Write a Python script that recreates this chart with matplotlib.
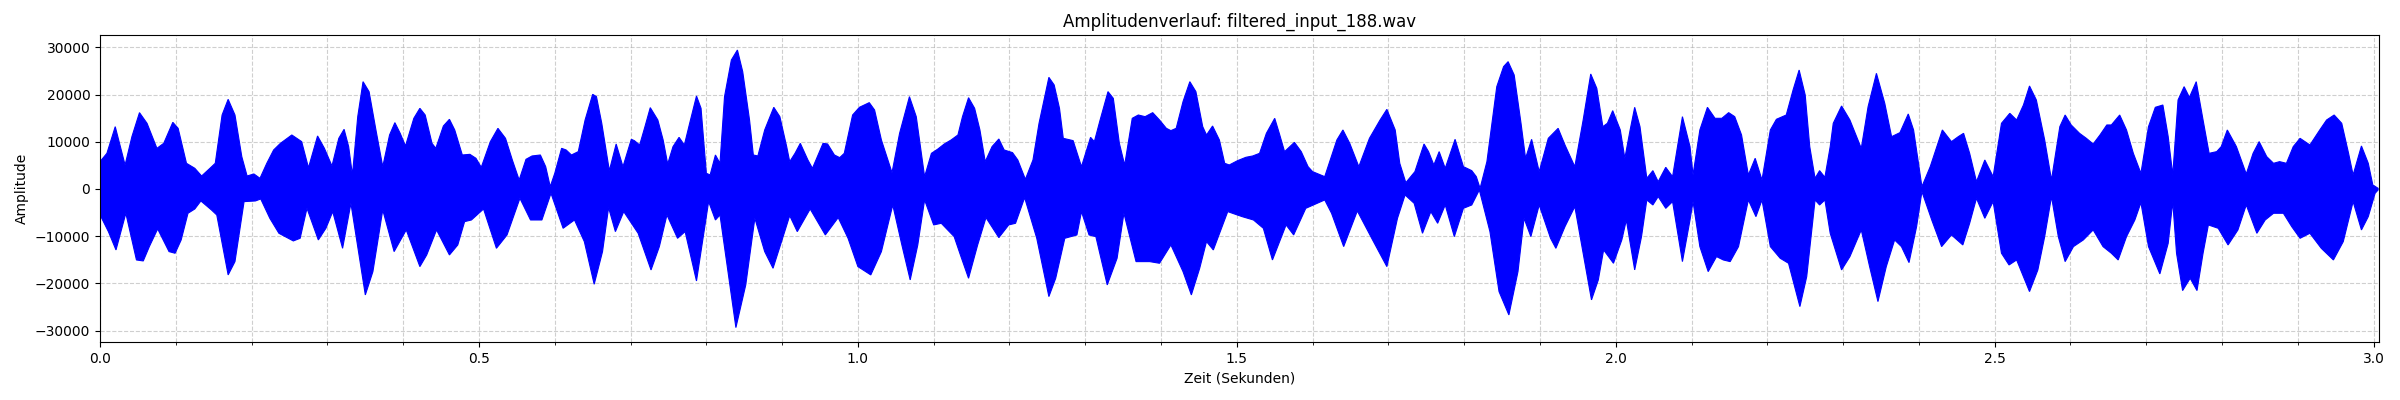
import matplotlib
matplotlib.use("Agg")
import matplotlib.pyplot as plt
import numpy as np
from matplotlib.ticker import MultipleLocator

# upper envelope of the waveform (seconds, amplitude)
t_upper = [
    0.000, 0.009, 0.020, 0.033, 0.042, 0.052, 0.062, 0.075, 0.084, 0.096,
    0.103, 0.114, 0.125, 0.134, 0.145, 0.152, 0.161, 0.169, 0.178, 0.187,
    0.194, 0.203, 0.211, 0.220, 0.229, 0.238, 0.253, 0.266, 0.275, 0.287,
    0.296, 0.306, 0.315, 0.322, 0.328, 0.333, 0.340, 0.347, 0.355, 0.364,
    0.373, 0.382, 0.389, 0.396, 0.403, 0.414, 0.422, 0.429, 0.438, 0.443,
    0.453, 0.461, 0.468, 0.478, 0.488, 0.496, 0.503, 0.515, 0.525, 0.535,
    0.544, 0.553, 0.562, 0.570, 0.581, 0.588, 0.594, 0.600, 0.609, 0.615,
    0.622, 0.631, 0.640, 0.650, 0.655, 0.662, 0.672, 0.681, 0.690, 0.701,
    0.705, 0.712, 0.719, 0.726, 0.736, 0.743, 0.749, 0.756, 0.764, 0.771,
    0.778, 0.787, 0.793, 0.800, 0.805, 0.812, 0.818, 0.824, 0.833, 0.841,
    0.848, 0.857, 0.862, 0.868, 0.877, 0.889, 0.897, 0.906, 0.910, 0.917,
    0.924, 0.934, 0.940, 0.954, 0.960, 0.969, 0.976, 0.982, 0.993, 1.002,
    1.015, 1.022, 1.031, 1.045, 1.055, 1.068, 1.077, 1.088, 1.097, 1.105,
    1.114, 1.123, 1.132, 1.138, 1.146, 1.154, 1.161, 1.168, 1.177, 1.186,
    1.193, 1.204, 1.211, 1.221, 1.231, 1.239, 1.252, 1.259, 1.266, 1.271,
    1.284, 1.295, 1.307, 1.312, 1.319, 1.330, 1.337, 1.345, 1.352, 1.362,
    1.370, 1.379, 1.389, 1.398, 1.407, 1.413, 1.420, 1.429, 1.438, 1.446,
    1.455, 1.460, 1.468, 1.477, 1.484, 1.490, 1.501, 1.512, 1.521, 1.530,
    1.539, 1.550, 1.556, 1.563, 1.576, 1.585, 1.594, 1.600, 1.616, 1.632,
    1.640, 1.649, 1.661, 1.675, 1.689, 1.698, 1.709, 1.715, 1.723, 1.735,
    1.747, 1.753, 1.760, 1.767, 1.775, 1.788, 1.799, 1.810, 1.816, 1.821,
    1.830, 1.843, 1.852, 1.858, 1.866, 1.875, 1.881, 1.889, 1.899, 1.911,
    1.924, 1.933, 1.946, 1.957, 1.967, 1.975, 1.983, 1.989, 1.996, 2.006,
    2.012, 2.019, 2.025, 2.032, 2.041, 2.049, 2.056, 2.066, 2.075, 2.088,
    2.098, 2.102, 2.111, 2.121, 2.131, 2.140, 2.149, 2.157, 2.166, 2.175,
    2.184, 2.193, 2.204, 2.212, 2.225, 2.234, 2.242, 2.250, 2.256, 2.263,
    2.269, 2.276, 2.283, 2.287, 2.298, 2.309, 2.324, 2.333, 2.344, 2.355,
    2.364, 2.375, 2.386, 2.393, 2.404, 2.415, 2.431, 2.443, 2.452, 2.459,
    2.467, 2.476, 2.487, 2.498, 2.509, 2.520, 2.529, 2.538, 2.546, 2.555,
    2.566, 2.575, 2.586, 2.593, 2.601, 2.612, 2.621, 2.630, 2.639, 2.648,
    2.654, 2.665, 2.674, 2.683, 2.693, 2.703, 2.712, 2.722, 2.729, 2.735,
    2.742, 2.750, 2.757, 2.766, 2.775, 2.783, 2.793, 2.799, 2.807, 2.819,
    2.832, 2.841, 2.849, 2.859, 2.868, 2.876, 2.885, 2.894, 2.903, 2.916,
    2.929, 2.938, 2.948, 2.958, 2.967, 2.973, 2.984, 2.993, 2.999, 3.006,
]
a_upper = [
    5800, 7550, 13200, 5080, 11080, 16170, 13900, 8610, 9670, 14120,
    12850, 5440, 4380, 2750, 4380, 5440, 15670, 18990, 15670, 6850,
    2750, 3180, 2260, 5440, 8260, 9670, 11440, 10030, 4500, 11230,
    8610, 4870, 10730, 12640, 8970, 2970, 15320, 22730, 20600, 12500,
    4730, 11440, 14050, 11790, 9110, 14970, 17090, 15670, 9670, 8610,
    13340, 14760, 12500, 7200, 7340, 6500, 4590, 10030, 12850, 10730,
    6140, 1910, 6280, 6990, 7200, 4730, 500, 3320, 8610, 8260,
    7200, 7910, 14610, 20050, 19560, 13910, 3880, 9530, 4730, 10520,
    10240, 9320, 13200, 17230, 14610, 10380, 5300, 8970, 10940, 9320,
    13910, 19700, 17090, 3320, 2970, 7200, 5440, 19560, 27320, 29440,
    24850, 14610, 7200, 6990, 12500, 17300, 15320, 8970, 5790, 7550,
    9670, 6140, 4380, 9670, 9530, 7200, 6640, 7550, 15670, 17300,
    18290, 16730, 10380, 3460, 11790, 19560, 15320, 2610, 7550, 8400,
    9530, 10380, 11440, 15320, 19340, 17090, 12500, 5790, 8970, 10590,
    8260, 7700, 6140, 2050, 6140, 13910, 23650, 22030, 17090, 10730,
    10240, 4730, 10940, 10030, 14260, 20620, 19200, 9670, 5080, 14970,
    15670, 15320, 16170, 14610, 12850, 12360, 12850, 18500, 22730, 20620,
    13200, 11440, 13340, 10380, 5440, 5080, 6000, 6710, 6990, 7550,
    11790, 14970, 11790, 7910, 9880, 7910, 4730, 3670, 2610, 10380,
    12500, 9670, 4730, 10730, 14610, 16870, 12500, 5440, 1340, 3670,
    9530, 7910, 5080, 7910, 4380, 10520, 4730, 3880, 2610, 140,
    5790, 21670, 25920, 26970, 24140, 13910, 6500, 10520, 3670, 10730,
    12850, 9320, 4730, 14610, 24360, 21320, 13200, 13910, 16590, 12500,
    6500, 12500, 17300, 13200, 2260, 3880, 1550, 4590, 2610, 15320,
    8970, 2970, 12500, 17300, 14970, 14970, 16170, 15320, 11440, 2970,
    6500, 1910, 12500, 14760, 15670, 20970, 25200, 19910, 8970, 2260,
    3880, 2470, 8970, 13910, 17580, 14610, 8610, 17440, 24500, 18140,
    11080, 11930, 15890, 12500, 490, 4730, 12500, 10030, 11080, 11790,
    7550, 1550, 6140, 2610, 13910, 16030, 14610, 17790, 21820, 18850,
    10380, 1910, 13200, 15670, 13560, 11790, 10730, 9530, 11440, 13560,
    13560, 15670, 12500, 7550, 3320, 13200, 17300, 17790, 11080, 2970,
    18850, 21670, 19410, 22730, 14610, 7550, 7910, 8970, 12500, 8970,
    3180, 7550, 10030, 6850, 5440, 5790, 5440, 8970, 10730, 9320,
    12500, 14610, 15670, 13910, 7550, 2970, 9110, 5440, 850, 140,
]

# lower envelope of the waveform
t_lower = [
    0.000, 0.011, 0.021, 0.034, 0.048, 0.057, 0.065, 0.076, 0.091, 0.099,
    0.107, 0.116, 0.125, 0.133, 0.147, 0.154, 0.169, 0.178, 0.190, 0.205,
    0.212, 0.224, 0.236, 0.255, 0.264, 0.273, 0.288, 0.298, 0.307, 0.320,
    0.331, 0.350, 0.360, 0.373, 0.388, 0.404, 0.422, 0.431, 0.444, 0.461,
    0.472, 0.481, 0.490, 0.506, 0.523, 0.537, 0.554, 0.568, 0.583, 0.595,
    0.611, 0.626, 0.639, 0.652, 0.663, 0.671, 0.680, 0.691, 0.710, 0.727,
    0.738, 0.748, 0.762, 0.772, 0.787, 0.803, 0.812, 0.818, 0.839, 0.852,
    0.864, 0.877, 0.888, 0.902, 0.910, 0.920, 0.937, 0.957, 0.974, 0.987,
    1.000, 1.017, 1.031, 1.046, 1.058, 1.069, 1.079, 1.088, 1.100, 1.110,
    1.127, 1.136, 1.146, 1.158, 1.169, 1.186, 1.199, 1.208, 1.220, 1.236,
    1.252, 1.261, 1.273, 1.289, 1.295, 1.305, 1.314, 1.329, 1.342, 1.351,
    1.367, 1.385, 1.398, 1.413, 1.429, 1.440, 1.451, 1.460, 1.469, 1.488,
    1.507, 1.522, 1.535, 1.547, 1.565, 1.575, 1.591, 1.616, 1.625, 1.641,
    1.659, 1.678, 1.698, 1.712, 1.722, 1.734, 1.745, 1.756, 1.765, 1.775,
    1.787, 1.799, 1.810, 1.820, 1.834, 1.846, 1.859, 1.871, 1.879, 1.888,
    1.899, 1.914, 1.921, 1.933, 1.946, 1.957, 1.968, 1.977, 1.984, 1.997,
    2.008, 2.014, 2.025, 2.034, 2.041, 2.049, 2.056, 2.066, 2.075, 2.088,
    2.098, 2.102, 2.111, 2.122, 2.133, 2.142, 2.151, 2.162, 2.175, 2.185,
    2.193, 2.204, 2.217, 2.228, 2.243, 2.252, 2.263, 2.269, 2.276, 2.283,
    2.298, 2.309, 2.324, 2.335, 2.346, 2.357, 2.368, 2.377, 2.387, 2.397,
    2.404, 2.417, 2.430, 2.443, 2.458, 2.467, 2.476, 2.487, 2.498, 2.509,
    2.519, 2.529, 2.546, 2.557, 2.566, 2.575, 2.584, 2.593, 2.604, 2.617,
    2.630, 2.643, 2.654, 2.663, 2.674, 2.685, 2.693, 2.703, 2.718, 2.729,
    2.735, 2.740, 2.748, 2.758, 2.767, 2.775, 2.782, 2.795, 2.808, 2.821,
    2.832, 2.846, 2.857, 2.868, 2.881, 2.892, 2.903, 2.916, 2.931, 2.947,
    2.960, 2.973, 2.984, 2.993, 3.002, 3.006,
]
a_lower = [
    -5500, -9040, -12920, -5150, -15040, -15250, -12210, -8470, -13270, -13620,
    -10800, -5150, -4240, -2540, -4450, -5510, -18210, -15390, -2680, -2540,
    -2120, -6210, -9390, -11010, -10450, -4100, -10800, -8330, -4800, -12570,
    -3040, -22450, -17510, -4450, -13270, -8680, -16450, -13980, -8680, -13980,
    -11860, -6920, -6570, -4240, -12570, -9740, -1980, -6570, -6570, -920,
    -8330, -6570, -11150, -20190, -13270, -3950, -9040, -4800, -9390, -17160,
    -12210, -5510, -10450, -9040, -19490, -2680, -6570, -5510, -29370, -20330,
    -6210, -13270, -16800, -9740, -5650, -9040, -4240, -9740, -6070, -10450,
    -16450, -18210, -13270, -3390, -11860, -19270, -11860, -2330, -7620, -7270,
    -10100, -14330, -18920, -11860, -6070, -10310, -7620, -7270, -1840, -10450,
    -22800, -18920, -10450, -9740, -4800, -9740, -10100, -20330, -14680, -5150,
    -15390, -15390, -15740, -11860, -17510, -22450, -16800, -11150, -12920, -4800,
    -5860, -6570, -8330, -15040, -7620, -9740, -4100, -2330, -5150, -12210,
    -4660, -10450, -16450, -6210, -1270, -3040, -9390, -4800, -7270, -3390,
    -10100, -4100, -3390, -210, -9040, -21740, -26690, -17510, -6210, -10100,
    -3390, -10450, -12570, -7980, -3740, -13620, -23500, -19270, -12920, -15740,
    -10800, -6570, -17150, -10100, -2330, -3390, -1620, -4100, -2680, -15390,
    -6570, -2680, -12210, -17510, -14330, -15040, -15390, -12210, -2330, -5860,
    -2330, -12210, -14680, -15740, -24920, -18570, -2330, -3390, -2330, -9390,
    -17150, -14330, -8680, -16450, -23860, -16450, -10800, -12210, -15600, -7980,
    -560, -6570, -12210, -9740, -11860, -7270, -1980, -6210, -2680, -13620,
    -16100, -15040, -21740, -17150, -10100, -1620, -10100, -15390, -12210, -10800,
    -8680, -12210, -13620, -15040, -10100, -6570, -2890, -12210, -18000, -11510,
    -2680, -13620, -21530, -18920, -21530, -13620, -7620, -8330, -11860, -8680,
    -3390, -9390, -6570, -5150, -5150, -7980, -10450, -9390, -12570, -15040,
    -11150, -2680, -8680, -5860, -920, -210,
]

duration = 3.007
title = "Amplitudenverlauf: filtered_input_188.wav"

fig, ax = plt.subplots(figsize=(24, 4), dpi=100)
fig.subplots_adjust(left=0.0417, right=0.9912, top=0.9118, bottom=0.1443)

# waveform body: upper envelope forward, lower envelope back
xs = np.concatenate([t_upper, t_lower[::-1]])
ys = np.concatenate([a_upper, a_lower[::-1]])
ax.fill(xs, ys, color="blue", linewidth=0.8, edgecolor="blue")

ax.set_xlim(0, duration)
ax.set_ylim(-32480, 32560)
ax.xaxis.set_major_locator(MultipleLocator(0.5))
ax.xaxis.set_minor_locator(MultipleLocator(0.1))
ax.grid(True, which="both", linestyle="--", alpha=0.6)
ax.set_axisbelow(True)

ax.set_title(title)
ax.set_xlabel("Zeit (Sekunden)")
ax.set_ylabel("Amplitude")

fig.savefig("out.png", dpi=100)
plt.close(fig)
